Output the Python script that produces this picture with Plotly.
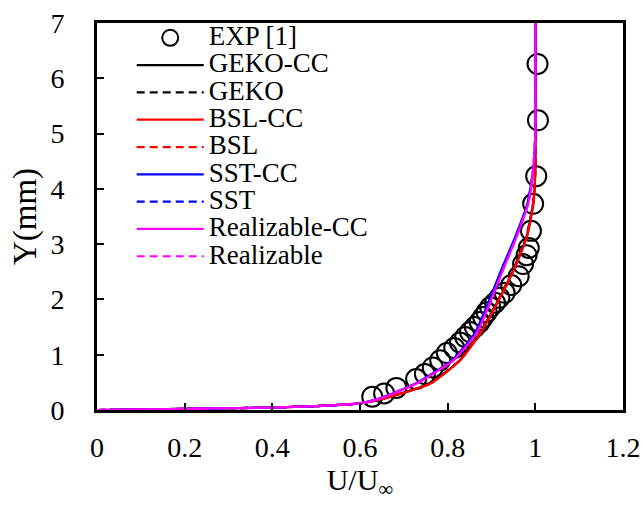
import plotly.graph_objects as go

# Experimental velocity profile
exp_u = [0.628, 0.655, 0.683, 0.728, 0.748, 0.766, 0.783, 0.798, 0.815, 0.828,
         0.840, 0.851, 0.862, 0.873, 0.881, 0.889, 0.897, 0.908, 0.918, 0.930,
         0.945, 0.962, 0.972, 0.980, 0.985, 0.990, 0.995, 1.002, 1.006, 1.005]
exp_y = [0.24, 0.30, 0.40, 0.56, 0.65, 0.77, 0.90, 1.03, 1.12, 1.22,
         1.32, 1.41, 1.50, 1.59, 1.68, 1.77, 1.86, 1.94, 2.03, 2.12,
         2.26, 2.42, 2.64, 2.80, 2.93, 3.24, 3.73, 4.23, 5.24, 6.26]

# Wall-normal positions shared by the simulated profiles (mm)
y_sim = [0.0, 0.02, 0.045, 0.07, 0.12, 0.21, 0.48, 0.90, 1.39, 1.87, 2.53,
         3.13, 3.74, 4.34, 5.0, 6.0, 7.0]

geko_cc_u = [0.0, 0.2, 0.4, 0.5, 0.6, 0.655, 0.760, 0.828, 0.874, 0.908, 0.950,
             0.980, 0.995, 1.0, 1.0, 1.0, 1.0]
geko_u = [0.0, 0.2, 0.4, 0.5, 0.6, 0.655, 0.759, 0.827, 0.873, 0.907, 0.949,
          0.979, 0.995, 1.0, 1.0, 1.0, 1.0]
bsl_cc_u = [0.0, 0.2, 0.4, 0.5, 0.6, 0.656, 0.761, 0.829, 0.875, 0.909, 0.951,
            0.981, 0.996, 1.0, 1.0, 1.0, 1.0]
bsl_u = [0.0, 0.2, 0.4, 0.5, 0.6, 0.655, 0.760, 0.828, 0.874, 0.908, 0.950,
         0.980, 0.995, 1.0, 1.0, 1.0, 1.0]
sst_cc_u = [0.0, 0.2, 0.4, 0.5, 0.6, 0.645, 0.727, 0.810, 0.862, 0.889, 0.922,
            0.954, 0.982, 0.995, 1.0, 1.0, 1.0]
sst_u = [0.0, 0.2, 0.4, 0.5, 0.6, 0.645, 0.727, 0.811, 0.863, 0.890, 0.923,
         0.955, 0.983, 0.995, 1.0, 1.0, 1.0]
real_cc_u = [0.0, 0.2, 0.4, 0.5, 0.6, 0.646, 0.729, 0.813, 0.866, 0.893, 0.926,
             0.957, 0.984, 0.995, 1.0, 1.0, 1.0]
real_u = [0.0, 0.2, 0.4, 0.5, 0.6, 0.646, 0.729, 0.813, 0.866, 0.893, 0.926,
          0.957, 0.984, 0.995, 1.0, 1.0, 1.0]

x_ticks = [0, 0.2, 0.4, 0.6, 0.8, 1.0, 1.2]
x_tick_text = ["0", "0.2", "0.4", "0.6", "0.8", "1", "1.2"]
y_ticks = [0, 1, 2, 3, 4, 5, 6, 7]

FONT = "Liberation Serif"
DASH = "8px,5px"


def legend_label(text):
    # larger glyphs inside a compact legend row
    return f'<span style="font-size:27px">{text}</span>'


fig = go.Figure()

fig.add_trace(go.Scatter(
    x=exp_u, y=exp_y, mode="markers", name=legend_label("EXP [1]"),
    marker=dict(symbol="circle-open", size=20, color="black", line=dict(width=2)),
))

models = [
    ("GEKO-CC", geko_cc_u, "black", "solid"),
    ("GEKO", geko_u, "black", DASH),
    ("BSL-CC", bsl_cc_u, "red", "solid"),
    ("BSL", bsl_u, "red", DASH),
    ("SST-CC", sst_cc_u, "blue", "solid"),
    ("SST", sst_u, "blue", DASH),
    ("Realizable-CC", real_cc_u, "magenta", "solid"),
    ("Realizable", real_u, "magenta", DASH),
]
for name, u, color, dash in models:
    fig.add_trace(go.Scatter(
        x=u, y=y_sim, mode="lines", name=legend_label(name),
        line=dict(color=color, width=2.2, dash=dash, shape="spline", smoothing=0.5),
    ))

fig.update_layout(
    width=643, height=506,
    margin=dict(l=97, r=20, t=23, b=96),
    paper_bgcolor="white", plot_bgcolor="white",
    font=dict(family=FONT, size=28, color="black"),
    showlegend=True,
    legend=dict(
        x=0.066, y=1.01, xanchor="left", yanchor="top",
        bgcolor="rgba(0,0,0,0)", borderwidth=0,
        font=dict(family=FONT, size=18.7, color="black"),
        itemwidth=67, tracegroupgap=0, maxheight=420,
    ),
)

fig.update_xaxes(
    range=[0, 1.2], tickvals=x_ticks, ticktext=x_tick_text,
    showgrid=False, zeroline=False, automargin=False,
    showline=True, linecolor="black", linewidth=3, mirror=True,
    ticks="inside", ticklen=7, tickwidth=2, tickcolor="black",
    ticklabelstandoff=10,
    title=dict(text="U/U<sub>∞</sub>", font=dict(family=FONT, size=30), standoff=8),
)
fig.update_yaxes(
    range=[0, 7], tickvals=y_ticks,
    showgrid=False, zeroline=False, automargin=False,
    showline=True, linecolor="black", linewidth=3, mirror=True,
    ticks="inside", ticklen=7, tickwidth=2, tickcolor="black",
    ticklabelstandoff=24,
    title=dict(text="Y(mm)", font=dict(family=FONT, size=33), standoff=4),
)

fig.write_html("out.html")
